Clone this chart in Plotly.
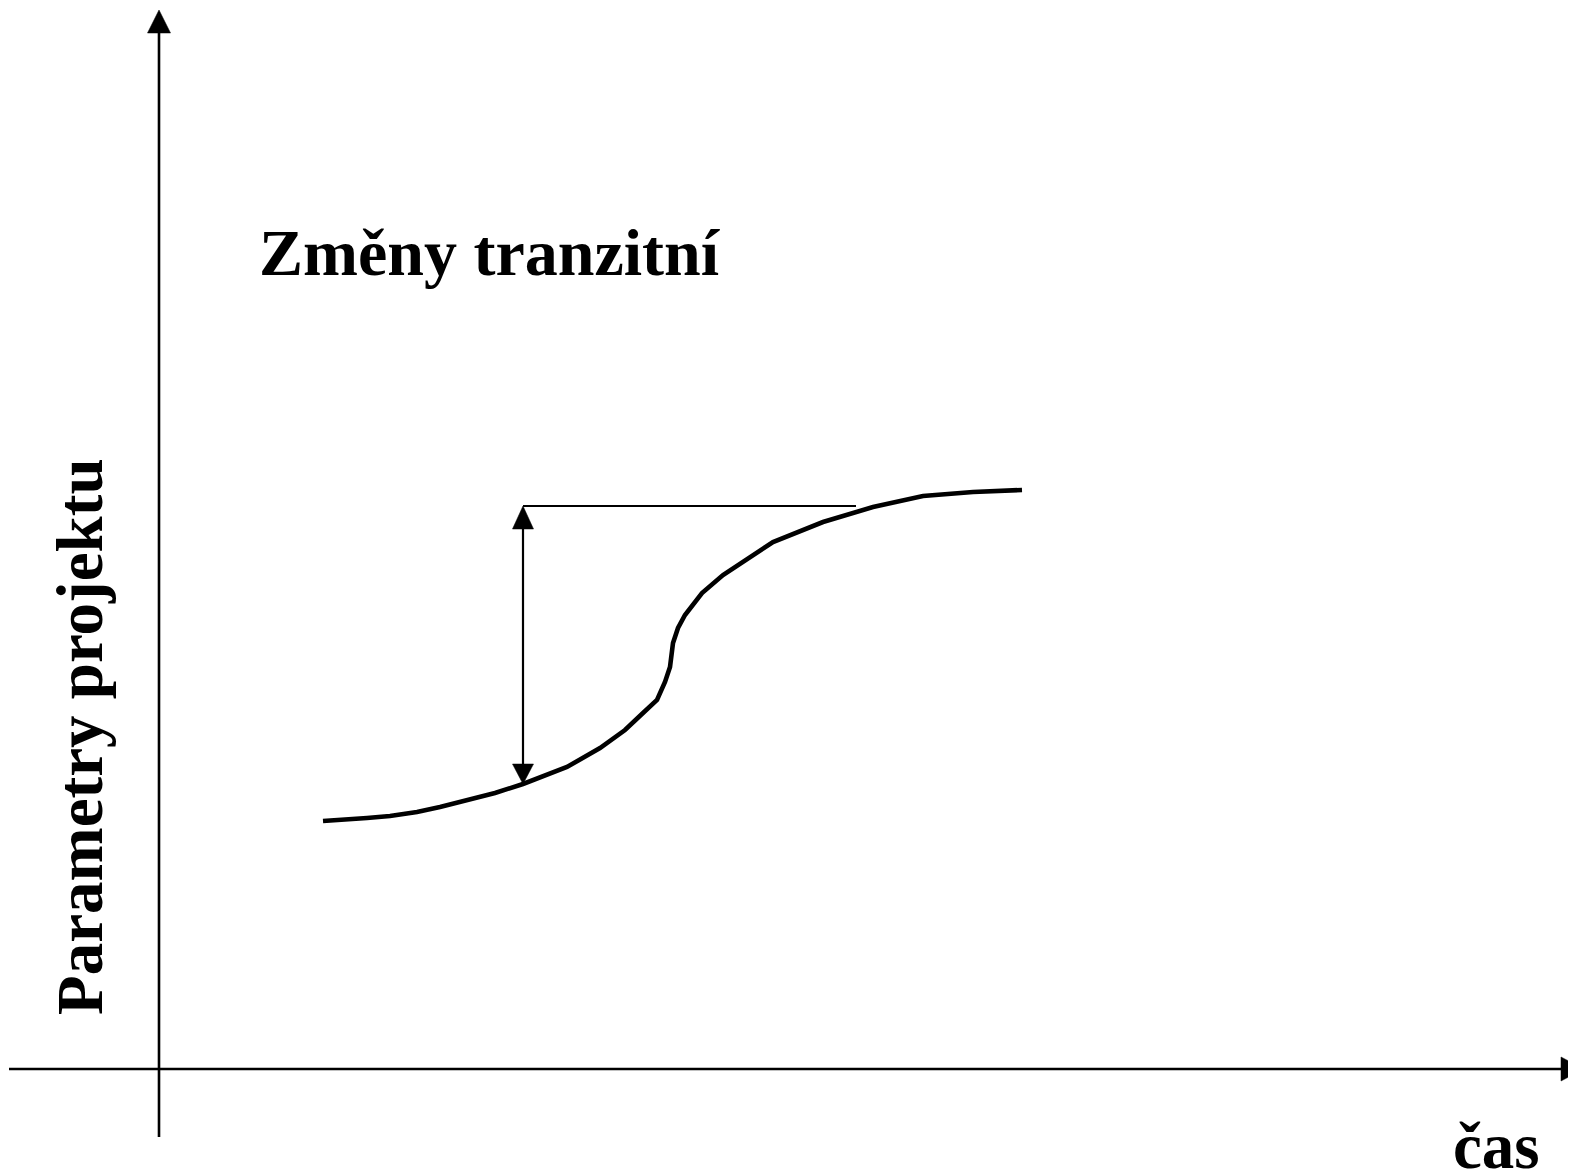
import plotly.graph_objects as go

# Curve data (time vs project parameter), arbitrary units, origin at axes crossing
t = [164, 186, 208, 231, 258, 281, 308, 336, 364, 408, 441, 466, 484, 498, 506,
     511, 514, 519, 526, 543, 564, 586, 614, 664, 714, 764, 814, 863]
p = [248, 249, 251, 253, 257, 262, 269, 276, 285, 302, 321, 339, 356, 369, 387,
     402, 426, 441, 454, 476, 494, 509, 527, 547, 562, 573, 577, 579]

# transition marker
change_t = 364
level_before = 285
level_after = 563
ref_line_end = 697

title_text = "Změny tranzitní"
x_label = "čas"
y_label = "Parametry projektu"

PAGE_W, PAGE_H = 1576, 1175
BODY = 8                      # default page body margin
W, H = PAGE_W - BODY, PAGE_H - BODY
ox, oy = 159, 1069            # origin position on the page

FONT = "Liberation Serif, Times New Roman, serif"

fig = go.Figure()

# main curve
fig.add_trace(go.Scatter(x=t, y=p, mode="lines",
                         line=dict(color="black", width=4.6),
                         hoverinfo="skip", showlegend=False))

shapes = []
# axes
shapes.append(dict(type="line", x0=0, x1=0, y0=oy - 1137, y1=oy - 30,
                   line=dict(color="black", width=2.6)))
shapes.append(dict(type="line", x0=9 - ox, x1=1565 - ox, y0=0, y1=0,
                   line=dict(color="black", width=2.6)))

def tri(tipx, tipy, dx, dy, half, length=23):
    bx, by = tipx - dx * length, tipy - dy * length
    px_, py_ = -dy, dx
    return (f"M {tipx} {tipy} L {bx + px_*half} {by + py_*half} "
            f"L {bx - px_*half} {by - py_*half} Z")

# axis arrowheads
shapes.append(dict(type="path", path=tri(0, oy - 10, 0, 1, 11.5),
                   fillcolor="black", line=dict(color="black", width=0.5)))
shapes.append(dict(type="path", path=tri(1584 - ox, 0, 1, 0, 12),
                   fillcolor="black", line=dict(color="black", width=0.5)))

# transition double arrow
shapes.append(dict(type="line", x0=change_t, x1=change_t,
                   y0=level_before + 15, y1=level_after - 15,
                   line=dict(color="black", width=2.2)))
shapes.append(dict(type="path", path=tri(change_t, level_after, 0, 1, 10.5),
                   fillcolor="black", line=dict(color="black", width=0.5)))
shapes.append(dict(type="path", path=tri(change_t, level_before, 0, -1, 10.5, 20),
                   fillcolor="black", line=dict(color="black", width=0.5)))
shapes.append(dict(type="line", x0=change_t, x1=ref_line_end,
                   y0=level_after, y1=level_after,
                   line=dict(color="black", width=2.2)))

annotations = [
    dict(text=f"<b>{title_text}</b>", x=257 - ox, y=oy - 252, xref="x", yref="y",
         xanchor="left", yanchor="middle", showarrow=False,
         font=dict(family=FONT, size=66, color="black")),
    dict(text=f"<b>{x_label}</b>", x=1451 - ox, y=oy - 1146, xref="x", yref="y",
         xanchor="left", yanchor="middle", showarrow=False,
         font=dict(family=FONT, size=65, color="black")),
    dict(text=f"<b>{y_label}</b>", x=80 - ox, y=oy - 737, xref="x", yref="y",
         xanchor="center", yanchor="middle", showarrow=False, textangle=-90,
         font=dict(family=FONT, size=65, color="black")),
]

fig.update_layout(
    width=W, height=H,
    margin=dict(l=0, r=0, t=0, b=0),
    paper_bgcolor="white", plot_bgcolor="white",
    xaxis=dict(range=[BODY - ox, PAGE_W - ox], visible=False, fixedrange=True),
    yaxis=dict(range=[oy - PAGE_H, oy - BODY], visible=False, fixedrange=True),
    shapes=shapes, annotations=annotations, showlegend=False,
)

fig.write_html("out.html", config={"displayModeBar": False})
